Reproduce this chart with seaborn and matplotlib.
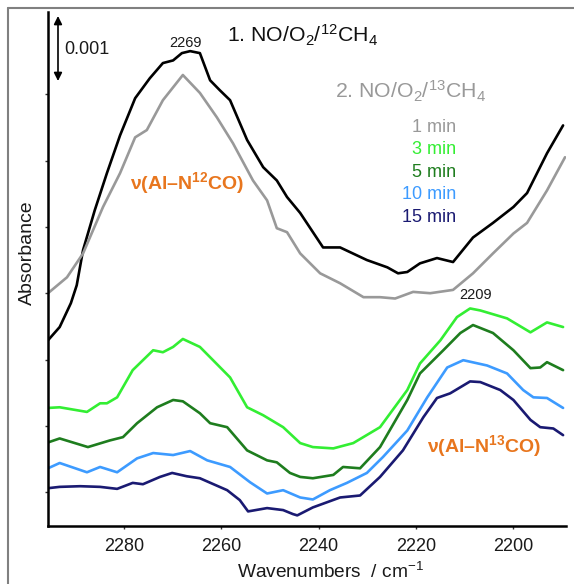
import numpy as np
import pandas as pd
import matplotlib
matplotlib.use("Agg")
import matplotlib.pyplot as plt
from matplotlib.lines import Line2D
import seaborn as sns

# ---- data (wavenumber cm-1, absorbance offset in units of 0.001) ----
black_wn = [2295.6, 2293.2, 2290.9, 2289.7, 2288.4, 2286.0, 2283.5, 2280.8, 2277.7, 2274.7,
            2272.0, 2269.9, 2268.1, 2266.4, 2264.4, 2262.3, 2260.3, 2258.2, 2254.7, 2251.4,
            2248.6, 2246.5, 2243.8, 2239.1, 2235.6, 2230.1, 2225.9, 2223.7, 2221.8, 2219.2,
            2215.7, 2212.4, 2208.3, 2204.2, 2200.0, 2197.2, 2193.1, 2189.8]
black_y = [2.29, 2.49, 2.85, 3.12, 3.65, 4.25, 4.81, 5.38, 5.94, 6.24,
           6.47, 6.51, 6.62, 6.65, 6.62, 6.21, 6.06, 5.91, 5.31, 4.90,
           4.70, 4.45, 4.21, 3.69, 3.69, 3.50, 3.39, 3.30, 3.32, 3.45,
           3.53, 3.47, 3.84, 4.06, 4.30, 4.51, 5.11, 5.53]

gray_wn = [2295.6, 2291.7, 2288.4, 2284.3, 2280.8, 2277.7, 2275.3, 2272.0, 2267.9, 2264.4,
           2260.9, 2257.6, 2253.5, 2250.6, 2248.6, 2246.5, 2243.8, 2239.7, 2235.6, 2230.8,
           2227.4, 2224.3, 2220.6, 2217.1, 2212.4, 2208.3, 2204.2, 2200.0, 2197.2, 2193.1, 2189.4]
gray_y = [3.00, 3.24, 3.60, 4.30, 4.81, 5.35, 5.46, 5.91, 6.29, 6.02,
          5.65, 5.26, 4.70, 4.40, 3.98, 3.92, 3.60, 3.30, 3.15, 2.94,
          2.94, 2.92, 3.02, 3.00, 3.05, 3.30, 3.60, 3.90, 4.06, 4.55, 5.05]

green_wn = [2295.6, 2293.2, 2287.6, 2284.9, 2283.5, 2281.4, 2278.2, 2274.0, 2272.0, 2269.9,
            2267.9, 2264.4, 2261.7, 2258.2, 2254.7, 2251.4, 2247.3, 2243.8, 2241.2, 2237.0,
            2232.9, 2227.4, 2221.8, 2219.2, 2215.0, 2211.6, 2208.9, 2206.8, 2201.3, 2196.5,
            2193.1, 2189.8]
green_y = [1.27, 1.28, 1.21, 1.34, 1.34, 1.43, 1.84, 2.14, 2.11, 2.19,
           2.31, 2.19, 1.99, 1.73, 1.28, 1.16, 0.98, 0.74, 0.68, 0.66,
           0.74, 0.98, 1.54, 1.94, 2.29, 2.64, 2.77, 2.74, 2.62, 2.41,
           2.56, 2.49]

dgreen_wn = [2295.6, 2293.2, 2287.4, 2282.9, 2280.2, 2277.3, 2273.2, 2269.9, 2267.9, 2264.4,
             2262.3, 2258.8, 2254.7, 2250.6, 2248.6, 2245.9, 2243.8, 2241.2, 2237.0, 2235.0,
             2231.5, 2227.4, 2221.8, 2219.2, 2214.4, 2210.9, 2208.3, 2204.2, 2200.0, 2196.5,
             2194.5, 2193.1, 2189.8]
dgreen_y = [0.75, 0.81, 0.68, 0.78, 0.83, 1.04, 1.28, 1.39, 1.37, 1.19,
            1.04, 0.98, 0.63, 0.48, 0.45, 0.29, 0.23, 0.21, 0.26, 0.38,
            0.36, 0.68, 1.39, 1.79, 2.14, 2.40, 2.52, 2.40, 2.14, 1.87,
            1.88, 1.96, 1.84]

lblue_wn = [2295.6, 2293.2, 2287.6, 2284.9, 2281.4, 2277.3, 2274.0, 2269.9, 2266.4, 2262.9,
            2258.2, 2254.1, 2250.6, 2247.3, 2243.8, 2241.2, 2237.7, 2234.2, 2230.1, 2226.8,
            2221.8, 2217.7, 2213.6, 2210.3, 2205.4, 2201.3, 2198.0, 2195.9, 2193.1, 2189.8]
lblue_y = [0.36, 0.44, 0.30, 0.38, 0.30, 0.51, 0.59, 0.56, 0.62, 0.48,
           0.38, 0.15, -0.02, 0.03, -0.08, -0.11, 0.03, 0.14, 0.29, 0.53,
           0.93, 1.43, 1.88, 1.99, 1.91, 1.79, 1.54, 1.43, 1.42, 1.27]

navy_wn = [2295.6, 2293.2, 2289.0, 2284.9, 2281.4, 2278.2, 2276.1, 2272.6, 2270.1, 2267.1,
           2264.4, 2258.8, 2256.2, 2254.5, 2250.6, 2247.3, 2245.3, 2244.4, 2241.2, 2235.6,
           2231.5, 2227.4, 2222.7, 2218.5, 2215.7, 2213.0, 2208.9, 2206.8, 2202.7, 2200.0,
           2196.5, 2194.5, 2191.8, 2189.8]
navy_y = [0.06, 0.08, 0.09, 0.08, 0.05, 0.14, 0.12, 0.23, 0.29, 0.24,
          0.21, 0.03, -0.12, -0.29, -0.24, -0.27, -0.33, -0.35, -0.23, -0.08,
          -0.05, 0.23, 0.63, 1.13, 1.42, 1.49, 1.67, 1.66, 1.54, 1.39,
          1.09, 0.98, 0.96, 0.86]

series_labels = ["1. NO/O2/12CH4", "1 min", "3 min", "5 min", "10 min", "15 min"]
colors = ["#000000", "#999999", "#33ee33", "#1e7d1e", "#3d9bff", "#1a1a72"]
time_labels = ["1 min", "3 min", "5 min", "10 min", "15 min"]
x_ticks = [2280, 2260, 2240, 2220, 2200]

# ---- styling ----
sns.set_theme(style="white")
plt.rcParams['font.family'] = ['Liberation Sans', 'DejaVu Sans']
plt.rcParams['mathtext.fontset'] = 'custom'
plt.rcParams['mathtext.rm'] = 'Liberation Sans'
plt.rcParams['mathtext.it'] = 'Liberation Sans:italic'
plt.rcParams['mathtext.bf'] = 'Liberation Sans:bold'

W, H = 574, 584
fig = plt.figure(figsize=(W / 100, H / 100), dpi=100)
ax = fig.add_axes([48 / W, 1 - 526 / H, (566 - 48) / W, (526 - 12) / H])

all_wn = [black_wn, gray_wn, green_wn, dgreen_wn, lblue_wn, navy_wn]
all_y = [black_y, gray_y, green_y, dgreen_y, lblue_y, navy_y]
frames = []
for lab, wn, yy in zip(series_labels, all_wn, all_y):
    frames.append(pd.DataFrame({"wn": wn, "A": yy, "series": lab}))
df = pd.concat(frames, ignore_index=True)

for lab, col in zip(series_labels, colors):
    sub = df[df.series == lab]
    sns.lineplot(data=sub, x="wn", y="A", color=col, lw=1.9, sort=False,
                 estimator=None, ax=ax, legend=False)

ax.set_xlim(2295.6, 2189.2)
ax.set_ylim(-0.51, 7.24)
ax.set_xticks(x_ticks)
ax.set_xticklabels([str(t) for t in x_ticks], fontsize=13, color="#1a1a1a")
ax.set_yticks(range(0, 7))
ax.set_yticklabels([])
ax.tick_params(axis='both', direction='out', length=2.5, width=1, color="#333333",
               bottom=True, left=True, pad=6)
for s in ["top", "right"]:
    ax.spines[s].set_visible(False)
for s in ["left", "bottom"]:
    ax.spines[s].set_color("black")
    ax.spines[s].set_linewidth(1.8)
ax.set_xlabel("")
ax.set_ylabel("")
ax.set_facecolor("white")


def fx(px):
    return px / W


def fy(py):
    return 1 - py / H


tf = fig.transFigure
fig.text(fx(237), fy(578), "Wavenumbers  / cm$^{-1}$", fontsize=13.8, color="#1a1a1a",
         ha="left", va="baseline")
fig.text(fx(27), fy(253), "Absorbance", fontsize=14, rotation=90, color="#1a1a1a",
         ha="center", va="center")

# scale bar arrow
ax.annotate("", xy=(fx(58), fy(16)), xytext=(fx(58), fy(81)), xycoords=tf, textcoords=tf,
            arrowprops=dict(arrowstyle="<|-|>", color="black", lw=1.2,
                            mutation_scale=12, shrinkA=0, shrinkB=0))
fig.text(fx(64), fy(54), "0.001", fontsize=13, color="#1a1a1a", ha="left", va="baseline")

fig.text(fx(186), fy(47), "2269", fontsize=10.5, color="#1a1a1a", ha="center", va="baseline")
fig.text(fx(476), fy(299), "2209", fontsize=10.5, color="#1a1a1a", ha="center", va="baseline")

fig.text(fx(227), fy(42), "1. NO/O$_2$/$^{12}$CH$_4$", fontsize=15.3, color="#111111",
         ha="left", va="baseline")
fig.text(fx(335), fy(98), "2. NO/O$_2$/$^{13}$CH$_4$", fontsize=15.3, color="#999999",
         ha="left", va="baseline")

baselines = [132, 154, 177, 199, 222]
for lab, col, b in zip(time_labels, colors[1:], baselines):
    fig.text(fx(456), fy(b), lab, fontsize=13, color=col, ha="right", va="baseline")

orange = "#e8761e"
fig.text(fx(130), fy(189), r"ν(Al–N$^{\mathbf{12}}$CO)", fontsize=14, fontweight="bold",
         color=orange, ha="left", va="baseline")
fig.text(fx(427), fy(452), r"ν(Al–N$^{\mathbf{13}}$CO)", fontsize=14, fontweight="bold",
         color=orange, ha="left", va="baseline")

# outer frame (left and top edges)
fig.add_artist(Line2D([fx(8), fx(8)], [0, fy(8)], transform=tf, color="#808080", lw=1.5))
fig.add_artist(Line2D([fx(8), 1], [fy(8), fy(8)], transform=tf, color="#808080", lw=1.5))

fig.savefig("out.png", dpi=100, facecolor="white")
